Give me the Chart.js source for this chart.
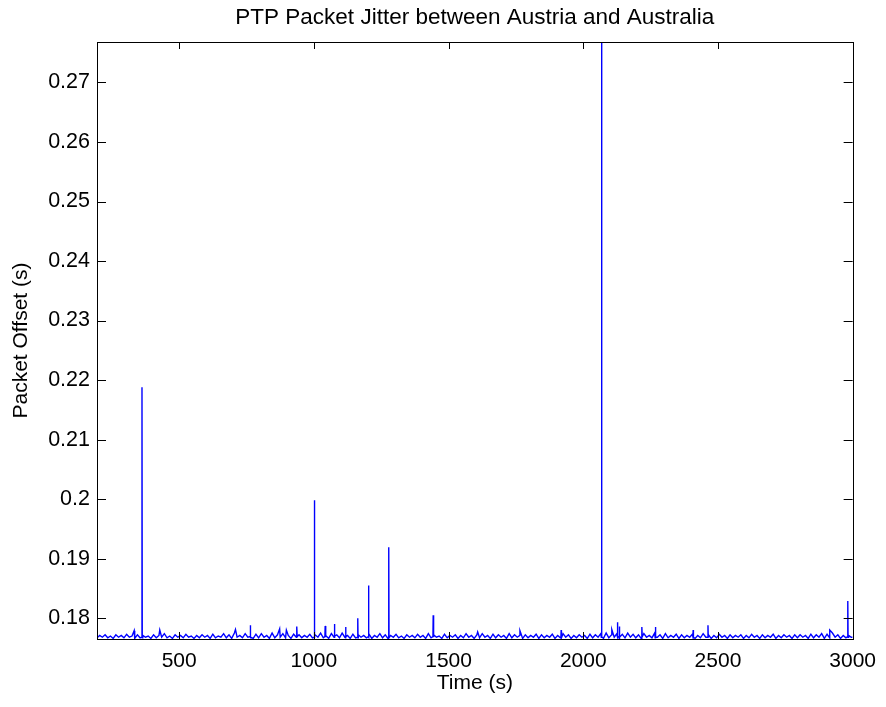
<!DOCTYPE html>
<html>
<head>
<meta charset="utf-8">
<script src="https://cdn.jsdelivr.net/npm/chart.js@4.4.1/dist/chart.umd.min.js"></script>
<style>
  body { margin: 0; background: #fff; }
  canvas { display: block; }
</style>
</head>
<body>
<canvas id="jitter" width="886" height="707"></canvas>
<script>
// baseline samples every 10 s starting at 195 s
const sampleStart = 195;
const sampleStep = 10;
const baseOffsets = [
  0.1767,0.1771,0.1768,0.1772,0.1767,0.1770,0.1766,0.1772,0.1768,0.1771,0.1767,0.1773,0.1768,0.1770,0.1766,0.1772,0.1767,0.1771,0.1768,0.1770,
  0.1766,0.1772,0.1767,0.1771,0.1768,0.1774,0.1767,0.1770,0.1766,0.1772,0.1768,0.1771,0.1767,0.1773,0.1768,0.1770,0.1766,0.1771,0.1767,0.1772,
  0.1768,0.1771,0.1766,0.1773,0.1767,0.1770,0.1768,0.1774,0.1767,0.1772,0.1766,0.1775,0.1768,0.1771,0.1767,0.1774,0.1768,0.1772,0.1766,0.1773,
  0.1767,0.1774,0.1768,0.1771,0.1766,0.1775,0.1767,0.1772,0.1768,0.1774,0.1767,0.1771,0.1766,0.1773,0.1768,0.1772,0.1767,0.1771,0.1768,0.1773,
  0.1767,0.1772,0.1768,0.1775,0.1767,0.1771,0.1766,0.1774,0.1768,0.1772,0.1767,0.1775,0.1768,0.1771,0.1766,0.1773,0.1767,0.1772,0.1768,0.1771,
  0.1767,0.1773,0.1766,0.1771,0.1768,0.1774,0.1767,0.1772,0.1766,0.1771,0.1768,0.1773,0.1767,0.1770,0.1766,0.1772,0.1768,0.1771,0.1767,0.1773,
  0.1768,0.1771,0.1766,0.1774,0.1767,0.1772,0.1768,0.1770,0.1766,0.1773,0.1767,0.1771,0.1768,0.1772,0.1766,0.1771,0.1767,0.1774,0.1768,0.1771,
  0.1766,0.1772,0.1767,0.1774,0.1768,0.1771,0.1766,0.1773,0.1767,0.1772,0.1768,0.1771,0.1766,0.1774,0.1767,0.1772,0.1768,0.1771,0.1766,0.1772,
  0.1767,0.1771,0.1768,0.1773,0.1766,0.1772,0.1767,0.1771,0.1768,0.1773,0.1766,0.1771,0.1767,0.1774,0.1768,0.1772,0.1766,0.1771,0.1767,0.1772,
  0.1768,0.1771,0.1766,0.1773,0.1767,0.1772,0.1768,0.1774,0.1766,0.1775,0.1767,0.1772,0.1768,0.1774,0.1766,0.1773,0.1767,0.1775,0.1768,0.1773,
  0.1767,0.1772,0.1766,0.1774,0.1768,0.1771,0.1767,0.1775,0.1768,0.1772,0.1766,0.1774,0.1767,0.1771,0.1768,0.1773,0.1766,0.1772,0.1767,0.1771,
  0.1768,0.1773,0.1766,0.1771,0.1767,0.1774,0.1768,0.1772,0.1766,0.1771,0.1767,0.1773,0.1768,0.1771,0.1766,0.1772,0.1767,0.1771,0.1768,0.1772,
  0.1766,0.1771,0.1767,0.1773,0.1768,0.1771,0.1766,0.1772,0.1767,0.1771,0.1768,0.1773,0.1766,0.1771,0.1767,0.1772,0.1768,0.1771,0.1766,0.1772,
  0.1767,0.1772,0.1768,0.1771,0.1766,0.1773,0.1767,0.1772,0.1768,0.1774,0.1766,0.1773,0.1767,0.1775,0.1768,0.1772,0.1766,0.1771,0.1767,0.1771,
  0.1768
];

// jitter peaks (with the samples either side of the tall ones)
const peakTimes = [
  333, 361, 362, 363, 428, 709, 763, 764, 765, 873, 898, 936, 937, 938,
  1001, 1002, 1003, 1041, 1042, 1043, 1076, 1077, 1078, 1117, 1118, 1119,
  1162, 1163, 1164, 1202, 1203, 1204, 1277, 1278, 1279, 1442, 1443, 1444,
  1608, 1765, 1917, 1918, 1919, 2067, 2068, 2069, 2106, 2126, 2127, 2128,
  2133, 2134, 2135, 2217, 2218, 2219, 2267, 2268, 2269, 2407, 2408, 2409,
  2462, 2463, 2464, 2915, 2981, 2982, 2983, 3000
];
const peakOffsets = [
  0.1779, 0.1768, 0.2188, 0.1767, 0.1780, 0.1781, 0.1769, 0.1788, 0.1768, 0.1782, 0.1780, 0.1768, 0.1786, 0.1769,
  0.1768, 0.1998, 0.1769, 0.1769, 0.1787, 0.1768, 0.1768, 0.1790, 0.1770, 0.1767, 0.1785, 0.1769,
  0.1768, 0.1800, 0.1767, 0.1769, 0.1855, 0.1768, 0.1768, 0.1919, 0.1767, 0.1769, 0.1805, 0.1768,
  0.1777, 0.1779, 0.1768, 0.1780, 0.1767, 0.1768, 0.2768, 0.1769, 0.1781, 0.1770, 0.1793, 0.1768,
  0.1769, 0.1786, 0.1768, 0.1768, 0.1785, 0.1769, 0.1767, 0.1785, 0.1768, 0.1769, 0.1780, 0.1768,
  0.1768, 0.1788, 0.1769, 0.1780, 0.1769, 0.1829, 0.1768, 0.1768
];

const xTicks = [500, 1000, 1500, 2000, 2500, 3000];
const yTicks = [0.18, 0.19, 0.2, 0.21, 0.22, 0.23, 0.24, 0.25, 0.26, 0.27];

const points = baseOffsets.map((v, i) => ({ x: sampleStart + i * sampleStep, y: v }))
  .concat(peakTimes.map((t, i) => ({ x: t, y: peakOffsets[i] })))
  .sort((a, b) => a.x - b.x);

const fontFamily = '"Liberation Sans", Arial, Helvetica, sans-serif';

// MATLAB style: box round the axes, tick marks pointing inwards
const axesBox = {
  id: 'axesBox',
  afterDraw(chart) {
    const { ctx, chartArea: a, scales } = chart;
    ctx.save();
    ctx.strokeStyle = '#000';
    ctx.lineWidth = 1;
    ctx.beginPath();
    scales.x.ticks.forEach(t => {
      const px = Math.round(scales.x.getPixelForValue(t.value)) + 0.5;
      ctx.moveTo(px, a.bottom);
      ctx.lineTo(px, a.bottom - 7);
      ctx.moveTo(px, a.top);
      ctx.lineTo(px, a.top + 7);
    });
    scales.y.ticks.forEach(t => {
      const py = Math.round(scales.y.getPixelForValue(t.value)) + 0.5;
      ctx.moveTo(a.left, py);
      ctx.lineTo(a.left + 9, py);
      ctx.moveTo(a.right, py);
      ctx.lineTo(a.right - 9, py);
    });
    ctx.stroke();
    ctx.strokeRect(Math.round(a.left) + 0.5, Math.round(a.top) + 0.5,
      Math.round(a.right - a.left), Math.round(a.bottom - a.top));
    ctx.restore();
  }
};

new Chart(document.getElementById('jitter').getContext('2d'), {
  type: 'line',
  data: {
    datasets: [{
      label: 'Packet Offset',
      data: points,
      borderColor: '#0000ff',
      borderWidth: 1.4,
      pointRadius: 0,
      tension: 0,
      fill: false
    }]
  },
  options: {
    responsive: false,
    animation: false,
    events: [],
    layout: { padding: { left: 0, right: 29, top: 0, bottom: 0 } },
    plugins: {
      legend: { display: false },
      tooltip: { enabled: false },
      title: {
        display: true,
        text: 'PTP Packet Jitter between Austria and Australia',
        fullSize: false,
        color: '#000',
        font: { family: fontFamily, size: 22.5, weight: 'normal' },
        padding: { top: 4, bottom: 11 }
      }
    },
    scales: {
      x: {
        type: 'linear',
        min: 195,
        max: 3000,
        afterBuildTicks: s => { s.ticks = xTicks.map(v => ({ value: v })); },
        afterFit: s => { s.height = 68; },
        grid: { display: false, drawTicks: false },
        border: { display: false },
        ticks: {
          color: '#000',
          padding: 10,
          autoSkip: false,
          maxRotation: 0,
          font: { family: fontFamily, size: 21 },
          callback: v => String(v)
        },
        title: {
          display: true,
          text: 'Time (s)',
          color: '#000',
          font: { family: fontFamily, size: 21 },
          padding: { top: 0, bottom: 11 }
        }
      },
      y: {
        type: 'linear',
        min: 0.1765,
        max: 0.2768,
        afterBuildTicks: s => { s.ticks = yTicks.map(v => ({ value: v })); },
        afterFit: s => { s.width = 97; },
        grid: { display: false, drawTicks: false },
        border: { display: false },
        ticks: {
          color: '#000',
          padding: 7,
          autoSkip: false,
          font: { family: fontFamily, size: 21.5 },
          callback: v => String(+v.toFixed(2))
        },
        title: {
          display: true,
          text: 'Packet Offset (s)',
          color: '#000',
          font: { family: fontFamily, size: 21 },
          padding: { top: 9, bottom: 0 }
        }
      }
    }
  },
  plugins: [axesBox]
});
</script>
</body>
</html>
